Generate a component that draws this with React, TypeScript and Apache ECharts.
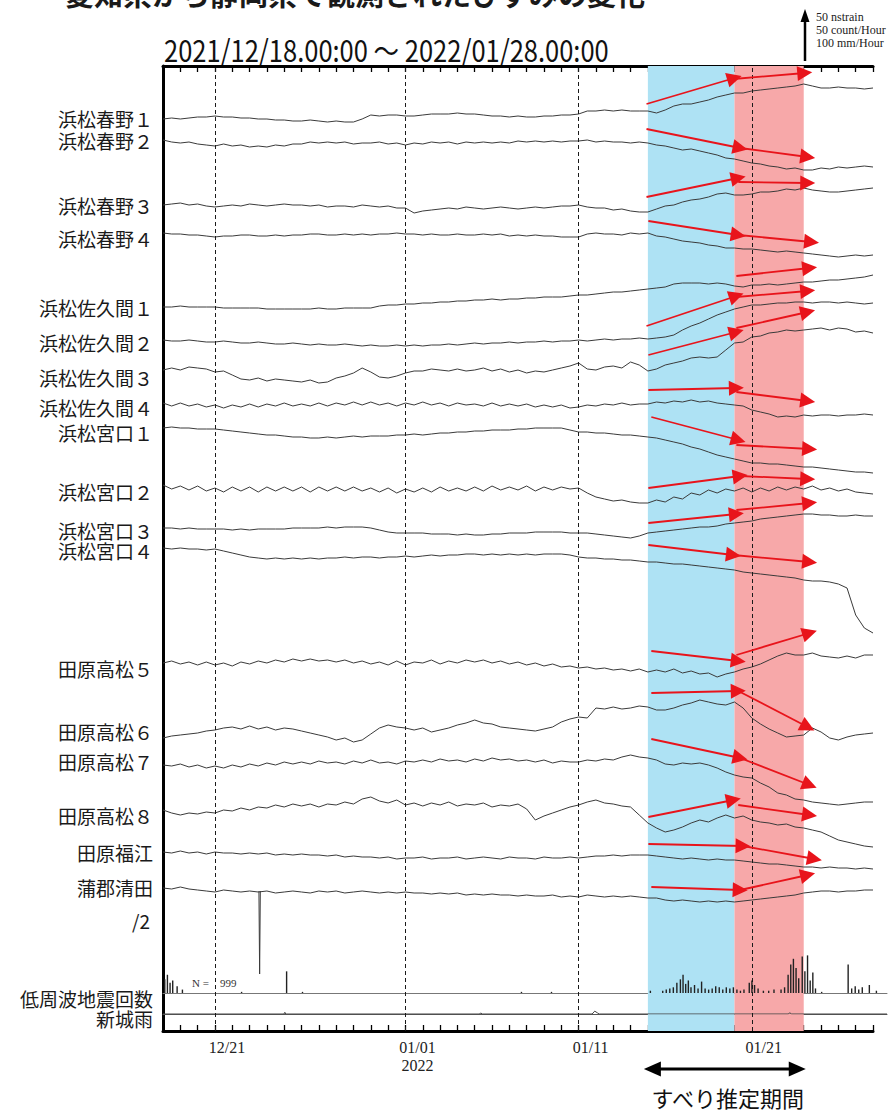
import React, { useEffect, useRef } from "react";
import * as echarts from "echarts";

// ---- axis / time ----
const X_MIN = 0; // 2021/12/18 00:00
const X_MAX = 41; // 2022/01/28 00:00
const TICK_DAYS = [3, 14, 24, 34];
const TICK_LABELS = ["12/21", "01/01\n2022", "01/11", "01/21"];
const DASHED_DAYS = [3, 14, 24, 34];
const BLUE_PERIOD = [28, 33];
const RED_PERIOD = [33, 37];
const SAMPLE_DAYS = Array.from({ length: 83 }, (_, i) => i * 0.5);

// ---- station names ----
const STATIONS = [
  "浜松春野１", "浜松春野２", "浜松春野３", "浜松春野４",
  "浜松佐久間１", "浜松佐久間２", "浜松佐久間３", "浜松佐久間４",
  "浜松宮口１", "浜松宮口２", "浜松宮口３", "浜松宮口４",
  "田原高松５", "田原高松６", "田原高松７", "田原高松８",
  "田原福江", "蒲郡清田",
];
// baseline of each trace (plot units from bottom of frame)
const OFFSETS = [912, 891, 826, 798, 724, 691, 661, 628, 603, 546, 503, 483, 368, 293, 266, 221, 179, 143];

// ---- strain changes (up = positive), one value every half day ----
const HARUNO1 = [0,1,0,1,2,2,3,2,2,1, 1,0,0,-1,-1,-2,-2,-1,-2,-3, -2,-3,-3,0,4,3,4,4,3,3, 4,5,5,5,6,5,5,4,3,3, 2,3,2,2,3,3,4,4,5,8, 8,9,8,9,8,8,8,6,9,13, 15,15,17,19,22,24,26,26,28,29, 30,31,32,33,35,33,31,31,32,31, 31,30,31];
const HARUNO2 = [0,-2,-3,-2,-4,-5,-6,-4,-6,-5, -7,-6,-7,-5,-6,-4,-4,-2,-3,-2, -3,-2,-4,-3,-3,-2,-4,-3,-5,-3, -4,-2,-3,-2,-4,-2,-3,-2,-3,-2, -3,-1,-2,-1,-2,-1,-2,-1,-1,0, -2,-1,-2,-2,-3,-2,-3,-5,-6,-8, -10,-9,-11,-13,-15,-18,-19,-21,-23,-24, -26,-27,-29,-28,-30,-30,-28,-29,-27,-28, -27,-26,-27];
const HARUNO3 = [0,1,2,0,1,-1,-2,-1,0,-1, 1,0,-1,0,1,0,0,-1,0,-2, -1,-1,-2,0,-1,-2,-1,-3,-3,-8, -6,-5,-4,-3,-4,-2,-3,-4,-3,-2, -3,-4,-3,-2,-3,-2,-1,-1,0,-2, -3,-3,-5,-4,-6,-7,-7,-4,-1,0, 3,5,6,8,11,12,10,10,11,13, 13,14,16,15,17,15,14,13,13,14, 15,16,17];
const HARUNO4 = [0,-1,-1,-2,-2,-3,-4,-3,-3,-2, -2,-3,-3,-2,-3,-2,-2,-1,-1,-2, -2,-1,-2,-1,-2,-1,-1,0,-1,-1, -2,-1,-2,-2,-1,-2,-2,-1,-2,-1, -3,-2,-3,-2,-3,-3,-4,-4,-4,-1, 0,-1,-1,-2,0,-1,0,-3,-4,-6, -8,-9,-10,-12,-13,-15,-15,-16,-16,-17, -18,-19,-18,-19,-20,-21,-22,-23,-24,-23, -22,-23,-22];
const SAKUMA1 = [0,0,1,0,0,0,0,-1,-1,-1, -1,-1,-2,-2,-2,-2,-2,-2,-1,-2, -2,-1,-1,-1,-1,1,2,2,3,3, 4,4,5,5,6,6,7,7,8,7, 8,8,9,9,10,10,10,11,12,12, 13,14,15,15,16,17,18,19,20,23, 24,24,24,23,24,23,21,20,22,22, 23,22,23,24,25,25,26,27,27,28, 29,30,32];
const SAKUMA2 = [0,-1,-1,0,-1,-2,-2,-1,-2,-3, -3,-2,-3,-4,-4,-3,-4,-5,-4,-5, -5,-4,-5,-6,-5,-6,-6,-5,-6,-5, -6,-5,-5,-4,-5,-4,-3,-4,-3,-3, -2,-3,-2,-2,-1,-2,-1,-1,0,-1, 0,1,0,1,1,2,1,2,3,5, 10,14,17,21,25,28,31,33,35,35, 36,37,37,38,38,37,38,38,37,38, 37,36,37];
const SAKUMA3 = [0,2,0,3,2,1,-2,-1,-5,-9, -10,-8,-11,-9,-10,-11,-12,-10,-13,-12, -8,-6,-3,2,-2,-7,-8,-6,-3,-1, -1,1,0,-1,1,-1,0,2,-1,1, -2,0,-3,-1,-2,0,2,4,7,1, 0,3,4,2,8,5,-1,1,5,7, 9,12,13,12,13,20,27,28,33,34, 37,38,40,39,40,41,42,40,42,41, 38,39,37];
const SAKUMA4 = [0,-3,0,-3,-1,-4,-2,-5,-2,-4, -1,-4,-1,-3,0,-3,-1,-3,0,-3, 0,-2,1,-2,1,-2,0,-3,0,-2, 1,-2,0,-3,0,-2,-1,-3,0,-3, -1,-3,-1,-4,-2,-4,-2,-5,-4,-2, -3,-1,-2,0,-2,-1,-1,1,0,2, 1,3,1,2,0,-1,-2,-3,-7,-9, -11,-14,-13,-14,-12,-13,-12,-12,-13,-12, -12,-11,-12];
const MIYAGUCHI1 = [0,1,0,0,-1,-1,-1,-2,-3,-4, -5,-6,-7,-7,-8,-9,-9,-10,-10,-9, -10,-9,-8,-9,-8,-8,-8,-7,-7,-6, -7,-6,-5,-5,-4,-4,-3,-3,-2,-2, -2,-1,-1,0,0,0,0,-2,-4,-4, -5,-5,-6,-7,-7,-8,-9,-10,-12,-14, -16,-19,-21,-24,-27,-29,-31,-33,-35,-35, -36,-36,-37,-38,-39,-39,-40,-41,-42,-43, -44,-44,-45];
const MIYAGUCHI2 = [0,-4,-1,-5,-1,-6,-3,-7,-2,-6, -2,-7,-2,-6,-2,-6,-2,-7,-2,-6, -2,-6,-2,-6,-3,-7,-3,-8,-4,-7, -3,-7,-2,-6,-3,-6,-2,-6,-1,-5, -2,-5,-1,-6,-2,-5,-2,-4,-3,-8, -12,-14,-16,-15,-17,-18,-18,-15,-17,-12, -14,-8,-10,-5,-8,-4,-6,-3,-7,-3, -6,-2,-5,-2,-4,-1,-5,-3,-6,-4, -7,-8,-9];
const MIYAGUCHI3 = [0,0,-1,0,-1,-1,-1,-1,-2,-1, -2,-1,-1,-1,-1,0,0,0,0,1, 0,1,1,1,0,-2,-4,-5,-5,-5, -5,-6,-6,-6,-7,-6,-7,-7,-6,-6, -5,-5,-5,-4,-4,-4,-4,-5,-5,-5, -6,-7,-8,-9,-10,-8,-5,-4,-3,-2, -1,0,1,1,2,4,5,6,7,9, 10,11,12,13,14,14,13,13,12,12, 13,12,12];
const MIYAGUCHI4 = [0,-1,0,-1,-1,-2,-1,-3,-5,-7, -9,-10,-11,-10,-11,-10,-11,-10,-11,-10, -10,-9,-10,-9,-9,-10,-9,-9,-8,-9, -8,-7,-8,-7,-7,-6,-6,-7,-6,-7, -6,-7,-6,-7,-6,-6,-6,-7,-9,-10, -10,-11,-11,-12,-12,-13,-14,-14,-15,-16, -16,-17,-18,-19,-20,-21,-22,-24,-25,-26, -27,-28,-29,-30,-32,-33,-33,-34,-36,-40, -67,-80,-85];
const TAKAMATSU5 = [0,2,-1,1,-2,1,-2,0,-3,1, -1,2,0,3,1,4,2,4,2,3, 1,3,0,2,-1,1,-2,2,-2,1, 0,3,-1,2,0,3,1,3,0,2, -1,1,-2,0,-3,-1,-4,-3,-5,-4, -6,-5,-7,-6,-8,-6,-9,-7,-9,-6, -10,-8,-11,-10,-14,-11,-9,-6,-4,-1, 3,7,10,8,8,10,7,6,5,7, 5,8,8];
const TAKAMATSU6 = [0,2,3,4,5,7,8,10,11,9, 12,9,11,8,10,9,7,5,3,1, -2,0,-4,-2,4,10,13,11,10,8, 10,6,8,10,13,15,18,15,14,11, 10,9,8,7,9,11,16,19,21,20, 30,29,31,29,30,32,31,28,28,30, 33,35,38,36,34,33,36,30,20,14, 9,5,1,2,3,10,6,0,-2,1, 3,4,5];
const TAKAMATSU7 = [0,-1,1,-2,0,-3,-1,-3,0,-2, 1,-1,2,0,3,1,3,1,4,2, 3,1,4,2,5,2,3,1,4,3, 5,3,6,4,5,3,6,4,7,5, 6,4,5,3,5,2,4,3,3,5, 4,6,5,8,10,8,7,5,1,0, 2,1,2,0,-3,-7,-10,-12,-13,-18, -22,-28,-30,-34,-35,-37,-38,-39,-40,-39, -38,-37,-37];
const TAKAMATSU8 = [0,-3,-5,-3,-4,-2,-3,0,-1,2, 0,3,2,5,3,6,4,6,3,6, 5,8,6,11,13,9,7,10,5,7, 4,7,5,8,4,6,5,7,3,5, 4,6,1,-10,-6,-3,0,3,5,8, 10,7,6,4,3,-5,-13,-18,-22,-20, -17,-13,-10,-12,-8,-5,-8,-6,-10,-12, -13,-15,-14,-17,-18,-20,-22,-26,-30,-32, -34,-36,-37];
const FUKUE = [0,-1,1,-1,0,-2,0,-1,-1,-2, -1,-2,-1,-3,-2,-3,-2,-3,-3,-4, -3,-5,-4,-5,-5,-6,-5,-7,-6,-6, -5,-7,-6,-6,-5,-7,-6,-5,-6,-7, -5,-6,-6,-7,-5,-6,-6,-5,-6,-5, -4,-4,-3,-4,-3,-3,-3,-4,-5,-6, -7,-6,-7,-8,-7,-8,-8,-9,-10,-11, -12,-12,-13,-14,-15,-15,-16,-15,-16,-16, -17,-16,-17];
const KIYOTA = [0,-1,1,-1,-2,-3,-4,-2,-3,-4, -3,-4,-3,-5,-4,-3,-4,-5,-3,-4, -3,-5,-4,-3,-4,-5,-4,-5,-4,-5, -5,-6,-5,-6,-5,-7,-6,-7,-6,-7, -7,-8,-7,-8,-8,-7,-9,-8,-9,-7, -8,-9,-8,-9,-8,-9,-10,-10,-12,-13, -12,-13,-14,-13,-14,-13,-14,-13,-12,-11, -10,-9,-8,-7,-5,-4,-3,-3,-4,-3, -3,-2,-2];
// single sharp spike in 蒲郡清田 (day, change)
const KIYOTA_SPIKE = [[5.54, -3], [5.58, -86], [5.62, -3]];

const TRACES = [
  HARUNO1, HARUNO2, HARUNO3, HARUNO4,
  SAKUMA1, SAKUMA2, SAKUMA3, SAKUMA4,
  MIYAGUCHI1, MIYAGUCHI2, MIYAGUCHI3, MIYAGUCHI4,
  TAKAMATSU5, TAKAMATSU6, TAKAMATSU7, TAKAMATSU8,
  FUKUE, KIYOTA,
];

// ---- low frequency earthquakes (count / hour) ----
const LFE_COUNTS = [
  [0.1, 12], [0.25, 16], [0.4, 9], [0.55, 11], [0.8, 6], [1.1, 3],
  [4.45, 1], [7.0, 19], [7.9, 1], [20.3, 1], [22.0, 1], [27.6, 2],
  [28.3, 2], [28.5, 3], [28.7, 4], [28.9, 5], [29.1, 9], [29.3, 12], [29.45, 16], [29.6, 8], [29.75, 11], [29.9, 5],
  [30.1, 7], [30.3, 4], [30.5, 10], [30.7, 4], [30.9, 3], [31.1, 4], [31.3, 6], [31.5, 5], [31.7, 3], [31.9, 5],
  [32.1, 4], [32.3, 5], [32.5, 3], [32.7, 2], [32.9, 3],
  [33.2, 9], [33.35, 11], [33.5, 7], [33.7, 4], [34.0, 2], [34.3, 2], [34.6, 3], [35.0, 3], [35.2, 5],
  [35.4, 16], [35.55, 25], [35.7, 30], [35.85, 22], [36.0, 13], [36.2, 32], [36.35, 19], [36.5, 33], [36.65, 11], [36.8, 18], [36.95, 4],
  [37.3, 1], [38.8, 25], [39.0, 4], [39.2, 6], [39.4, 3], [39.6, 5], [40.0, 7], [40.4, 2],
];
// ---- rain at Shinshiro (mm / hour) ----
const RAIN = [
  [0, 0], [6.85, 0], [6.9, 3], [6.95, 0], [17.9, 0], [18, 1.5], [18.1, 0],
  [24.3, 0], [24.45, 5], [24.6, 2], [24.7, 0], [35.4, 0], [35.5, 2], [35.6, 0], [41, 0],
];

// ---- red arrows: [day1, value1, day2, value2] ----
const ARROWS = [
  [27.92, 927, 33.0, 953], [32.94, 952, 37.06, 958],
  [27.92, 902, 33.33, 883], [33.33, 883, 37.23, 874],
  [27.92, 834, 33.22, 853], [33.22, 849, 37.23, 848],
  [28.03, 810, 33.22, 796], [33.22, 796, 37.45, 789],
  [33.11, 755, 37.34, 763],
  [27.92, 705, 33.11, 735], [33.11, 734, 37.23, 740],
  [28.03, 676, 33.11, 699], [33.11, 703, 37.23, 719],
  [28.03, 641, 33.11, 643], [33.11, 639, 37.23, 630],
  [28.2, 614, 33.22, 591], [33.11, 586, 37.34, 582],
  [28.03, 543, 33.33, 555], [33.33, 555, 37.23, 552],
  [28.03, 508, 33.11, 517], [33.11, 521, 37.34, 528],
  [28.03, 486, 32.94, 476], [32.94, 476, 37.34, 469],
  [28.2, 380, 33.22, 370], [33.11, 376, 37.34, 398],
  [28.2, 338, 33.22, 340], [33.22, 340, 37.23, 304],
  [28.2, 292, 33.33, 273], [33.33, 273, 37.34, 246],
  [28.03, 214, 32.94, 231], [33.22, 226, 37.34, 216],
  [28.03, 187, 33.5, 185], [33.5, 185, 37.62, 172],
  [28.2, 144, 33.33, 141], [33.33, 141, 37.23, 156],
];

// ---- left labels and their vertical positions ----
const LABEL_Y = [118, 140, 205, 238, 307, 342, 377, 407, 432, 491, 530, 550, 668, 731, 761, 815, 852, 887];
const EXTRA_LABELS = ["/2", "低周波地震回数", "新城雨"];
const EXTRA_LABEL_Y = [920, 998, 1018];

const TITLE = "愛知県から静岡県で観測されたひずみの変化";
const PERIOD_TITLE = "2021/12/18.00:00 ～ 2022/01/28.00:00";
const SCALE_TEXT = ["50 nstrain", "50 count/Hour", "100 mm/Hour"];
const SLIP_TEXT = "すべり推定期間";
const N_TEXT = ["N =", "999"];

const JP = "'Noto Sans CJK JP', 'Noto Sans', sans-serif";
const SERIF = "'Liberation Serif', 'DejaVu Serif', serif";

const GRID_LEFT = 163;
const GRID_WIDTH = 724;

export default function App() {
  const ref = useRef<HTMLDivElement>(null);
  useEffect(() => {
    document.body.style.margin = "0";
    const chart = echarts.init(ref.current as HTMLDivElement, null, { renderer: "svg" });

    const traceSeries = TRACES.map((vals, i) => ({
      name: STATIONS[i],
      type: "line",
      xAxisIndex: 0,
      yAxisIndex: 0,
      data: vals.map((v, j) => [SAMPLE_DAYS[j], OFFSETS[i] + v]),
      symbol: "none",
      silent: true,
      z: 4,
      lineStyle: { color: "#3a3a3a", width: 1 },
    }));

    const hiddenAxis = {
      show: true,
      axisLine: { show: false },
      axisTick: { show: false },
      axisLabel: { show: false },
      splitLine: { show: false },
    };

    const option: any = {
      animation: false,
      backgroundColor: "#ffffff",
      grid: [
        { left: GRID_LEFT, width: GRID_WIDTH, top: 66, height: 965 },
        { left: GRID_LEFT, width: GRID_WIDTH, top: 936, height: 57 },
        { left: GRID_LEFT, width: GRID_WIDTH, top: 957, height: 57 },
      ],
      xAxis: [
        {
          type: "value", gridIndex: 0, position: "bottom", min: X_MIN, max: X_MAX, interval: 1,
          axisLine: { show: true, lineStyle: { color: "#000", width: 3 } },
          axisTick: { show: true, inside: true, length: 6, lineStyle: { color: "#000", width: 1.3 } },
          axisLabel: {
            show: true, margin: 7, color: "#222", fontFamily: SERIF, fontSize: 16, lineHeight: 18,
            padding: [0, 0, 0, 24],
            showMinLabel: true, showMaxLabel: true,
            formatter: (v: number) => {
              const k = TICK_DAYS.indexOf(v);
              return k >= 0 ? TICK_LABELS[k] : "";
            },
          },
          splitLine: { show: false },
        },
        {
          type: "value", gridIndex: 0, position: "top", min: X_MIN, max: X_MAX, interval: 1,
          axisLine: { show: true, lineStyle: { color: "#000", width: 3 } },
          axisTick: { show: true, inside: true, length: 6, lineStyle: { color: "#000", width: 1.3 } },
          axisLabel: { show: false },
          splitLine: { show: false },
        },
        {
          type: "value", gridIndex: 1, min: X_MIN, max: X_MAX,
          axisLine: { show: true, onZero: false, lineStyle: { color: "#777", width: 1 } },
          axisTick: { show: false }, axisLabel: { show: false }, splitLine: { show: false },
        },
        {
          type: "value", gridIndex: 2, min: X_MIN, max: X_MAX,
          axisLine: { show: true, onZero: false, lineStyle: { color: "#555", width: 1 } },
          axisTick: { show: false }, axisLabel: { show: false }, splitLine: { show: false },
        },
      ],
      yAxis: [
        {
          type: "value", gridIndex: 0, min: 0, max: 965,
          axisLine: { show: true, lineStyle: { color: "#000", width: 3 } },
          axisTick: { show: false }, axisLabel: { show: false }, splitLine: { show: false },
        },
        { type: "value", gridIndex: 1, min: 0, max: 50, ...hiddenAxis },
        { type: "value", gridIndex: 2, min: 0, max: 100, ...hiddenAxis },
      ],
      series: [
        {
          name: "bands",
          type: "line",
          xAxisIndex: 0,
          yAxisIndex: 0,
          data: [[0, -50]],
          symbol: "none",
          silent: true,
          z: 1,
          lineStyle: { opacity: 0 },
          markArea: {
            silent: true,
            data: [
              [{ xAxis: BLUE_PERIOD[0], itemStyle: { color: "#aee2f4" } }, { xAxis: BLUE_PERIOD[1] }],
              [{ xAxis: RED_PERIOD[0], itemStyle: { color: "#f7a8a9" } }, { xAxis: RED_PERIOD[1] }],
            ],
          },
          markLine: {
            silent: true,
            symbol: "none",
            label: { show: false },
            lineStyle: { color: "#1a1a1a", width: 1, type: [4, 3] },
            data: DASHED_DAYS.map((d) => ({ xAxis: d })),
          },
        },
        ...traceSeries,
        {
          name: "蒲郡清田 spike",
          type: "line",
          xAxisIndex: 0,
          yAxisIndex: 0,
          data: KIYOTA_SPIKE.map((p) => [p[0], OFFSETS[17] + p[1]]),
          symbol: "none",
          silent: true,
          z: 4,
          lineStyle: { color: "#3a3a3a", width: 1 },
        },
        {
          name: "arrows",
          type: "line",
          xAxisIndex: 0,
          yAxisIndex: 0,
          data: [[0, -50]],
          symbol: "none",
          silent: true,
          z: 6,
          lineStyle: { opacity: 0 },
          markLine: {
            silent: true,
            symbol: ["none", "triangle"],
            symbolSize: 15,
            label: { show: false },
            itemStyle: { color: "#e8141b" },
            lineStyle: { color: "#e8141b", width: 1.8, type: "solid" },
            data: ARROWS.map((a) => [{ coord: [a[0], a[1]] }, { coord: [a[2], a[3]] }]),
          },
        },
        {
          name: "低周波地震回数",
          type: "bar",
          xAxisIndex: 2,
          yAxisIndex: 1,
          data: LFE_COUNTS,
          barWidth: 1.4,
          silent: true,
          z: 4,
          itemStyle: { color: "#222" },
        },
        {
          name: "新城雨",
          type: "line",
          xAxisIndex: 3,
          yAxisIndex: 2,
          data: RAIN,
          symbol: "none",
          silent: true,
          z: 4,
          lineStyle: { color: "#444", width: 1 },
        },
      ],
    };

    chart.setOption(option);

    const px = (d: number) => chart.convertToPixel({ xAxisIndex: 0 }, d) as number;
    const sx0 = px(BLUE_PERIOD[0]);
    const sx1 = px(RED_PERIOD[1]);
    const arrowY = 1069;
    const lx = sx0 - 4;
    const rx = sx1 + 2;

    const textEl = (text: string, x: number, y: number, st: any, extra: any = {}) => ({
      type: "text",
      x,
      y,
      silent: true,
      ...extra,
      style: { text, fill: "#1a1a1a", ...st },
    });

    const leftMid = { align: "left", verticalAlign: "middle", textAlign: "left", textVerticalAlign: "middle" };

    const labelStyle = {
      fontSize: 19, lineHeight: 18, fontFamily: JP, align: "right", verticalAlign: "middle",
      textAlign: "right", textVerticalAlign: "middle",
    };

    const graphic: any[] = [
      textEl(TITLE, 65, 7, {
        fontSize: 29, fontWeight: "bold", fontFamily: JP, align: "left", verticalAlign: "bottom",
        textAlign: "left", textVerticalAlign: "bottom",
      }),
      textEl(PERIOD_TITLE, 164, 49, { fontSize: 30, fontFamily: JP, fill: "#111", ...leftMid }, { scaleX: 0.85 }),
      // scale arrow
      { type: "line", silent: true, shape: { x1: 805, y1: 61, x2: 805, y2: 20 }, style: { stroke: "#000", lineWidth: 2.5 } },
      { type: "polygon", silent: true, shape: { points: [[800.5, 22], [809.5, 22], [805, 9]] }, style: { fill: "#000" } },
      ...SCALE_TEXT.map((t, i) => textEl(t, 816, 17 + i * 13, { fontSize: 12, fontFamily: SERIF, fill: "#222", ...leftMid })),
      textEl(N_TEXT[0], 192, 983, { fontSize: 11, fontFamily: SERIF, fill: "#333", ...leftMid }),
      textEl(N_TEXT[1], 220, 983, { fontSize: 11, fontFamily: SERIF, fill: "#333", ...leftMid }),
      ...STATIONS.map((s, i) => textEl(s, 153, LABEL_Y[i], labelStyle)),
      ...EXTRA_LABELS.map((s, i) => textEl(s, i === 0 ? 150 : 153, EXTRA_LABEL_Y[i], labelStyle)),
      // slip period double arrow
      { type: "line", silent: true, shape: { x1: lx + 12, y1: arrowY, x2: rx - 12, y2: arrowY }, style: { stroke: "#000", lineWidth: 3 } },
      { type: "polygon", silent: true, shape: { points: [[lx, arrowY], [lx + 17, arrowY - 7.5], [lx + 17, arrowY + 7.5]] }, style: { fill: "#000" } },
      { type: "polygon", silent: true, shape: { points: [[rx, arrowY], [rx - 17, arrowY - 7.5], [rx - 17, arrowY + 7.5]] }, style: { fill: "#000" } },
      textEl(SLIP_TEXT, (sx0 + sx1) / 2 + 2, 1097, {
        fontSize: 22, lineHeight: 22, fontFamily: JP, fill: "#111", align: "center", verticalAlign: "middle",
        textAlign: "center", textVerticalAlign: "middle",
      }),
    ];

    chart.setOption({ graphic });

    return () => chart.dispose();
  }, []);

  return <div ref={ref} style={{ width: 888, height: 1113 }} />;
}
